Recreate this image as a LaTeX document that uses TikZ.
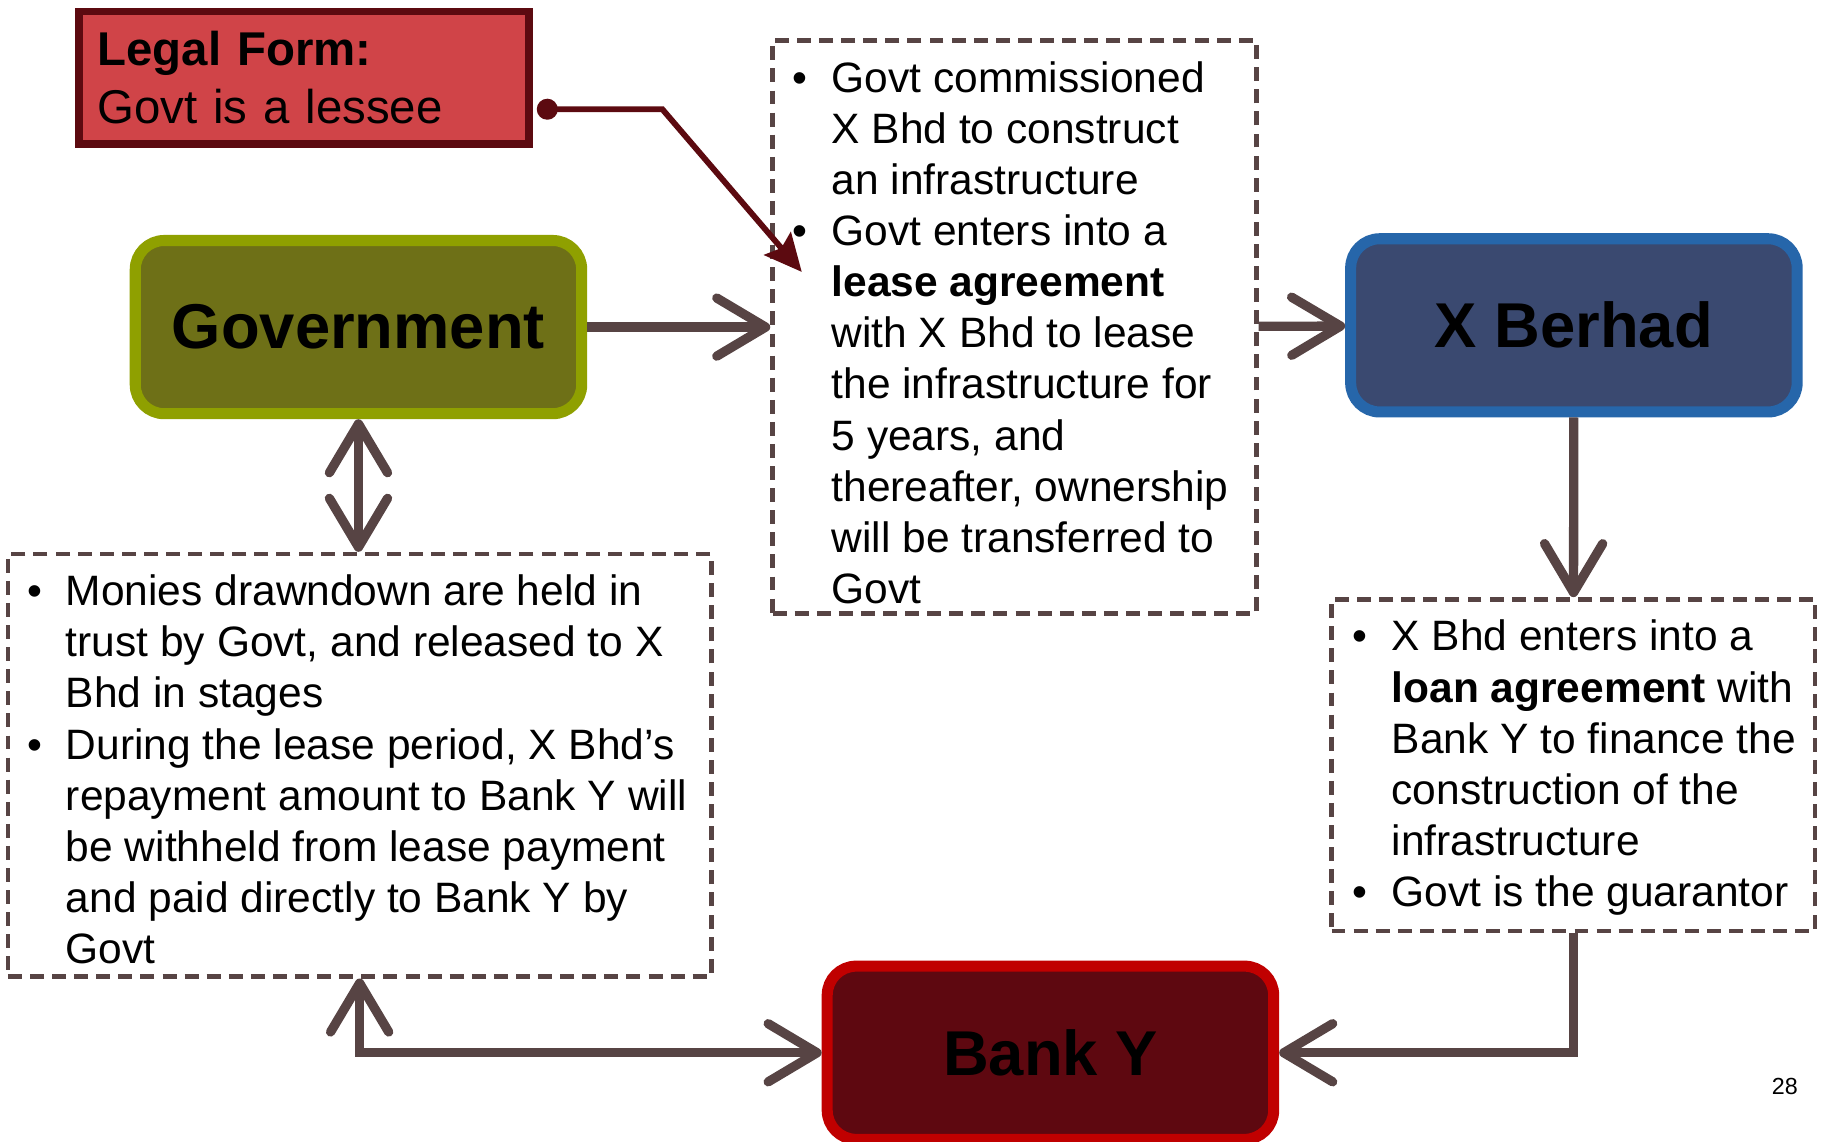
\documentclass[tikz,border=0pt]{standalone}
\usepackage{fontspec}
\setmainfont{Liberation Sans}
\usetikzlibrary{arrows.meta,positioning}
\definecolor{legalfill}{HTML}{D04448}
\definecolor{legalline}{HTML}{5C0A10}
\definecolor{govfill}{HTML}{6E7017}
\definecolor{govline}{HTML}{8FA000}
\definecolor{xbfill}{HTML}{3A4970}
\definecolor{xbline}{HTML}{2666AA}
\definecolor{bankfill}{HTML}{5E0810}
\definecolor{bankline}{HTML}{C00000}
\definecolor{linkgray}{HTML}{574444}
\newcommand\bul{\llap{\textbullet\hspace{0.206cm}}}

\begin{document}
\begin{tikzpicture}[x=0.01cm, y=-0.01cm,
   entity/.style={rectangle, rounded corners=0.25cm, line width=0.095cm, minimum width=3.84cm, minimum height=1.49cm, font=\fontsize{15.5}{18}\selectfont\bfseries},
   note/.style={rectangle, draw=linkgray, line width=0.04cm, dash pattern=on 0.12cm off 0.07cm},
   notetext/.style={anchor=north west, inner sep=0pt, align=left, font=\fontsize{10.4}{12.52}\selectfont},
   conn/.style={draw=linkgray, line width=0.08cm, -{Straight Barb[length=4.2mm,width=5mm,round]}},
   twoway/.style={conn, {Straight Barb[length=4.2mm,width=5mm,round]}-{Straight Barb[length=4.2mm,width=5mm,round]}}]
   \useasboundingbox (0,0) rectangle (1568,982);
   \node (legal) at (261.5,67) [draw=legalline, fill=legalfill, line width=0.065cm, minimum width=3.87cm, minimum height=1.14cm, text width=3.55cm, inner xsep=0.16cm, align=left, font=\fontsize{11.6}{14.2}\selectfont] {\textbf{Legal Form:}\\Govt is a lessee};
   \node (gov) at (308.5,281.5) [entity, draw=govline, fill=govfill] {Government};
   \node (xber) at (1354.5,280) [entity, draw=xbline, fill=xbfill] {X Berhad};
   \node (bank) at (904,906) [entity, draw=bankline, fill=bankfill] {Bank Y};
   \node (lease) at (873,281.5) [note, minimum width=4.16cm, minimum height=4.93cm] {};
   \node (side) at (309.5,658.5) [note, minimum width=6.05cm, minimum height=3.63cm] {};
   \node (loan) at (1354,658.5) [note, minimum width=4.16cm, minimum height=2.85cm] {};
   \node (leasetxt) at (715,52) [notetext] {\bul Govt commissioned\\X Bhd to construct\\an infrastructure\\\bul Govt enters into a\\\textbf{lease agreement}\\with X Bhd to lease\\the infrastructure for\\5 years, and\\thereafter, ownership\\will be transferred to\\Govt};
   \node (sidetxt) at (56,494) [notetext] {\bul Monies drawndown are held in\\trust by Govt, and released to X\\Bhd in stages\\\bul During the lease period, X Bhd’s\\repayment amount to Bank Y will\\be withheld from lease payment\\and paid directly to Bank Y by\\Govt};
   \node (loantxt) at (1197,533) [notetext] {\bul X Bhd enters into a\\\textbf{loan agreement} with\\Bank Y to finance the\\construction of the\\infrastructure\\\bul Govt is the guarantor};
   \node (pg) at (1536,935) [font=\fontsize{5.7}{7}\selectfont] {28};
   \coordinate (ldot) at (462,94);
   \coordinate (ltip) at (690,234);
   \draw[legalline, line width=0.05cm, {Circle[length=1.8mm]}-{Stealth[length=3.2mm,width=3mm,inset=0.5mm]}] (ldot) -- ++(108,0) -- (ltip);
   \draw[conn] (gov) -- (lease);
   \draw[conn] (lease) -- (xber);
   \draw[conn] (xber) -- (loan);
   \draw[conn] (loan.south) |- (bank.east);
   \draw[twoway] (gov.south) -- (gov.south |- side.north);
   \draw[twoway] (side.south) |- (bank.west);
\end{tikzpicture}
\end{document}
